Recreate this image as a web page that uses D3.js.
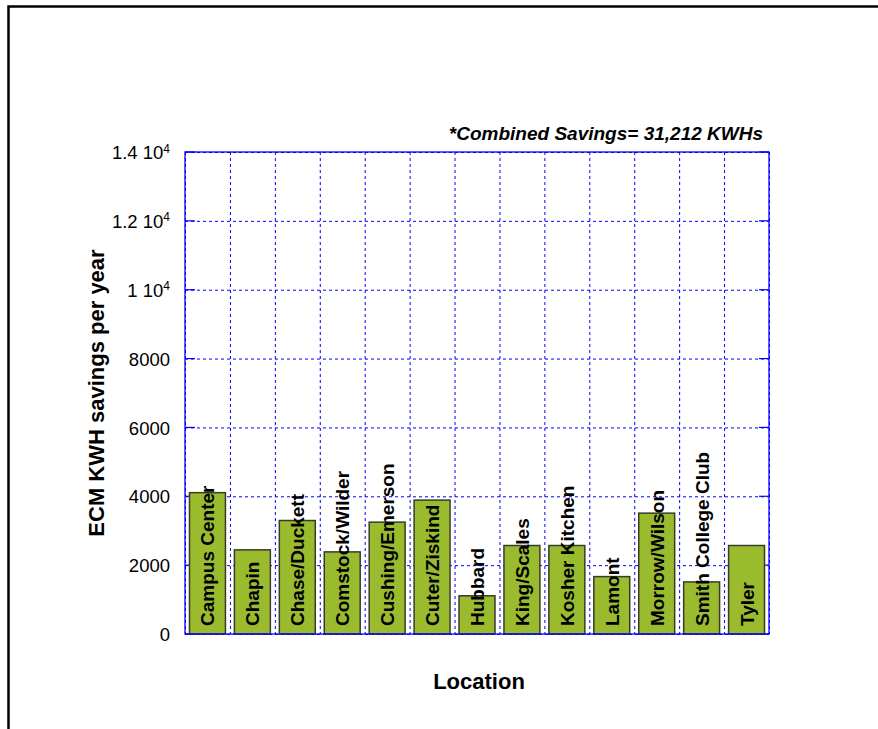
<!DOCTYPE html>
<html>
<head>
<meta charset="utf-8">
<script src="https://cdn.jsdelivr.net/npm/d3@7"></script>
<style>
  body { margin: 0; background: #fff; }
  svg { display: block; font-family: "Liberation Sans", Arial, sans-serif; }
</style>
</head>
<body>
<div id="chart"></div>
<script>
const locations = ["Campus Center", "Chapin", "Chase/Duckett", "Comstock/Wilder", "Cushing/Emerson",
  "Cuter/Ziskind", "Hubbard", "King/Scales", "Kosher Kitchen", "Lamont", "Morrow/Wilson",
  "Smith College Club", "Tyler"]
const savings = [4105, 2444, 3296, 2385, 3249, 3889, 1110, 2570, 2570, 1667, 3510, 1513, 2570]
const yTicks = [0, 2000, 4000, 6000, 8000, 10000, 12000, 14000]
const titleText = "*Combined Savings= 31,212 KWHs"

const width = 878, height = 729
const margin = { top: 152, right: 109, bottom: 95, left: 185 }
const innerWidth = width - margin.left - margin.right
const innerHeight = height - margin.top - margin.bottom

const svg = d3.select("#chart").append("svg")
  .attr("width", width)
  .attr("height", height)

// outer frame, only top and left edges show
svg.append("path")
  .attr("d", "M8.5," + height + "V6.5H" + width)
  .attr("fill", "none")
  .attr("stroke", "#000")
  .attr("stroke-width", 2.5)

const g = svg.append("g")
  .attr("transform", "translate(" + margin.left + "," + margin.top + ")")

const x = d3.scaleBand()
  .domain(locations)
  .range([0, innerWidth])
  .paddingInner(0.2)
  .paddingOuter(0.1)

const y = d3.scaleLinear()
  .domain([0, 14000])
  .range([innerHeight, 0])

// horizontal grid
g.append("g")
  .call(d3.axisLeft(y).tickValues(yTicks).tickSize(-innerWidth).tickFormat(""))
  .call(a => a.select(".domain").remove())
  .call(a => a.selectAll("text").remove())
  .selectAll("line")
  .attr("stroke", "#0000ff")
  .attr("stroke-dasharray", "3,3")

// vertical grid at band boundaries
const xb = d3.scaleLinear().domain([0, locations.length]).range([0, innerWidth])
g.append("g")
  .call(d3.axisBottom(xb).ticks(locations.length).tickSize(innerHeight).tickFormat(""))
  .call(a => a.select(".domain").remove())
  .call(a => a.selectAll("text").remove())
  .selectAll("line")
  .attr("stroke", "#0000ff")
  .attr("stroke-dasharray", "3,3")

// small solid ticks inside the frame
yTicks.forEach(v => {
  g.append("line").attr("x1", 0).attr("x2", 10).attr("y1", y(v)).attr("y2", y(v))
    .attr("stroke", "#0000ff").attr("stroke-width", 1.2)
  g.append("line").attr("x1", innerWidth - 10).attr("x2", innerWidth).attr("y1", y(v)).attr("y2", y(v))
    .attr("stroke", "#0000ff").attr("stroke-width", 1.2)
})

// bars
g.selectAll(".bar")
  .data(locations)
  .enter()
  .append("rect")
  .attr("x", d => x(d))
  .attr("y", (d, i) => y(savings[i]))
  .attr("width", x.bandwidth())
  .attr("height", (d, i) => innerHeight - y(savings[i]))
  .attr("fill", "#9abb2e")
  .attr("stroke", "#3a3a2a")
  .attr("stroke-width", 1.5)

// bar labels
g.selectAll(".lbl")
  .data(locations)
  .enter()
  .append("text")
  .attr("transform", d => "translate(" + (x(d) + x.bandwidth() / 2 + 7) + "," + (innerHeight - 8) + ") rotate(-90)")
  .attr("text-anchor", "start")
  .style("font-size", "19px")
  .style("font-weight", "bold")
  .attr("fill", "#000")
  .text(d => d)

// frame
g.append("rect")
  .attr("width", innerWidth)
  .attr("height", innerHeight)
  .attr("fill", "none")
  .attr("stroke", "#0000ff")
  .attr("stroke-width", 1.3)

// y tick labels
const yAxis = g.append("g")
  .call(d3.axisLeft(y).tickValues(yTicks).tickSize(0).tickPadding(15).tickFormat(""))
yAxis.select(".domain").remove()
yAxis.selectAll(".tick text")
  .style("font-size", "18.5px")
  .attr("fill", "#000")
  .attr("dy", "0.36em")
  .each(function (d) {
    const t = d3.select(this)
    if (d >= 10000) {
      const m = d / 10000
      t.append("tspan").text(m + " 10")
      t.append("tspan").text("4").attr("dy", "-0.55em").style("font-size", "12px")
    } else {
      t.text(d)
    }
  })

// title (top right)
g.append("text")
  .attr("x", innerWidth - 6)
  .attr("y", -12)
  .attr("text-anchor", "end")
  .style("font-size", "19px")
  .style("font-weight", "bold")
  .style("font-style", "italic")
  .text(titleText)

// axis titles
g.append("text")
  .attr("x", innerWidth / 2 + 2)
  .attr("y", innerHeight + 55)
  .attr("text-anchor", "middle")
  .style("font-size", "22px")
  .style("font-weight", "bold")
  .text("Location")

g.append("text")
  .attr("transform", "rotate(-90)")
  .attr("x", -innerHeight / 2)
  .attr("y", -81)
  .attr("text-anchor", "middle")
  .style("font-size", "22px")
  .style("font-weight", "bold")
  .text("ECM KWH savings per year")
</script>
</body>
</html>
